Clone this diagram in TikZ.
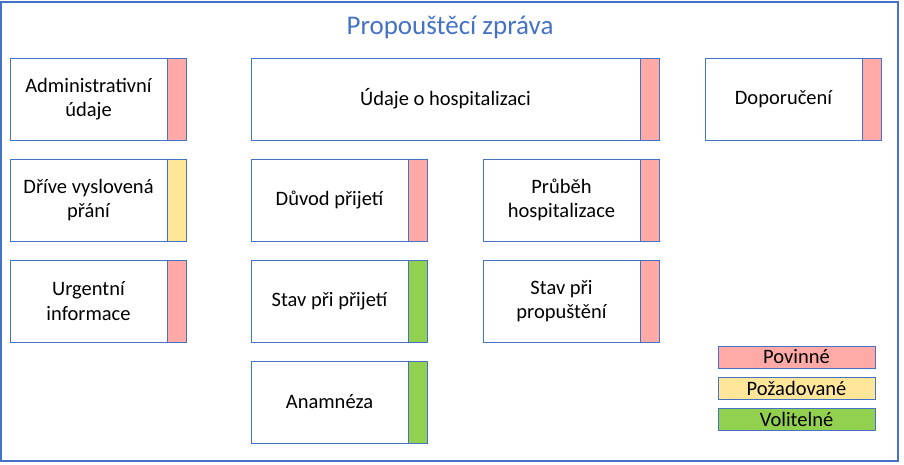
\documentclass[tikz,border=0pt]{standalone}
\usepackage{fontspec}
\setmainfont{Carlito}
\usetikzlibrary{positioning}
\definecolor{ramec}{HTML}{4472C4}
\definecolor{povinne}{HTML}{FFAAA6}
\definecolor{pozadovane}{HTML}{FFE699}
\definecolor{volitelne}{HTML}{92D050}
\tikzset{
  pole/.style={draw=ramec, line width=1pt, fill=white, minimum width=157pt, minimum height=82pt,
    inner sep=0pt, outer sep=0pt, align=center, font=\fontsize{20.5}{24.5}\selectfont},
  pruh/.style={draw=ramec, line width=1pt, fill=#1, minimum width=19pt, minimum height=82pt,
    inner sep=0pt, outer sep=0pt},
  legenda/.style={draw=ramec, line width=1pt, fill=#1, minimum width=157pt, minimum height=22pt,
    inner sep=0pt, outer sep=0pt, font=\fontsize{20.5}{24.5}\selectfont},
}
\begin{document}
\begin{tikzpicture}[x=1pt, y=-1pt]
  \useasboundingbox (0,0) rectangle (904,464);
  \draw[ramec, line width=1.2pt] (1,2) rectangle (898,461);
  \node[text=ramec, font=\fontsize{27}{30}\selectfont] (titul) at (450,27) {Propouštěcí zpráva};
  % first column
  \node[pole] (adm) at (88.5,99) {Administrativní\\údaje};
  \node[pruh=povinne, right=0pt of adm] (adm-s) {};
  \node[pole] (prani) at (88.5,200) {Dříve vyslovená\\přání};
  \node[pruh=pozadovane, right=0pt of prani] (prani-s) {};
  \node[pole] (urg) at (88.5,301) {Urgentní\\informace};
  \node[pruh=povinne, right=0pt of urg] (urg-s) {};
  % hospitalization
  \node[pole, minimum width=389pt] (hosp) at (445.5,99) {Údaje o hospitalizaci};
  \node[pruh=povinne, right=0pt of hosp] (hosp-s) {};
  \node[pole] (duvod) at (329.5,200) {Důvod přijetí};
  \node[pruh=povinne, right=0pt of duvod] (duvod-s) {};
  \node[pole] (stavp) at (329.5,301) {Stav při přijetí};
  \node[pruh=volitelne, right=0pt of stavp] (stavp-s) {};
  \node[pole] (anam) at (329.5,402) {Anamnéza};
  \node[pruh=volitelne, right=0pt of anam] (anam-s) {};
  \node[pole] (prubeh) at (561.5,200) {Průběh\\hospitalizace};
  \node[pruh=povinne, right=0pt of prubeh] (prubeh-s) {};
  \node[pole] (propus) at (561.5,301) {Stav při\\propuštění};
  \node[pruh=povinne, right=0pt of propus] (propus-s) {};
  % right column
  \node[pole] (dop) at (783.5,99) {Doporučení};
  \node[pruh=povinne, right=0pt of dop] (dop-s) {};
  % legend
  \node[legenda=povinne] (leg-p) at (796.5,357) {Povinné};
  \node[legenda=pozadovane] (leg-z) at (796.5,388.5) {Požadované};
  \node[legenda=volitelne] (leg-v) at (796.5,419) {Volitelné};
\end{tikzpicture}
\end{document}
